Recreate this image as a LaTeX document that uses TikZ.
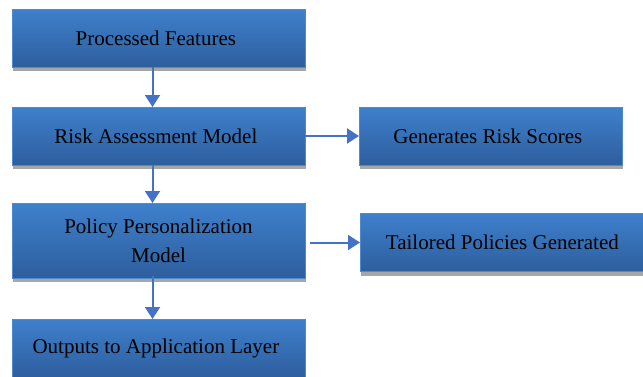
\documentclass[tikz,border=0pt]{standalone}
\usepackage{fontspec}
\setmainfont{Liberation Serif}
\usetikzlibrary{positioning}
\usetikzlibrary{arrows.meta}
\usetikzlibrary{shadows}

\definecolor{boxtop}{RGB}{62,128,204}
\definecolor{boxbottom}{RGB}{46,94,158}
\definecolor{boxline}{RGB}{78,138,210}
\definecolor{flowline}{RGB}{68,114,196}

\begin{document}
\begin{tikzpicture}[x=1pt,y=-1pt]
  \tikzstyle{block}=[rectangle, draw=boxline, line width=1pt, top color=boxtop, bottom color=boxbottom, text=black,
    font=\fontsize{21}{29}\selectfont, align=center, inner sep=0pt, outer sep=0pt,
    minimum width=293pt, minimum height=58pt,
    drop shadow={fill=black!35, shadow xshift=1pt, shadow yshift=-4pt, opacity=1}]
  \tikzstyle{flow}=[draw=flowline, line width=2pt, -{Triangle[width=15pt,length=12pt]}]

  \useasboundingbox (0,0) rectangle (643,376);

  \node[block] at (158.5, 38) (A)   { Processed Features };
  \node[block]         (B) [below=40pt of A] { Risk Assessment Model };
  \node[block, minimum height=75pt, yshift=0pt] (C) [below=38pt of B] { \raisebox{0pt}{Policy Personalization}\\ Model };
  \node[block]         (D) [below=41pt of C] { Outputs to Application Layer };

  \node[block, minimum width=263pt]             (E) [right=54pt of B] { Generates Risk Scores };
  \node[block, minimum width=290pt, yshift=-2pt] (F) [right=55pt of C] { Tailored Policies Generated };

  \draw[flow] ([xshift=-6pt]A.south) -- ([xshift=-6pt]B.north);
  \draw[flow] ([xshift=-6pt]B.south) -- ([xshift=-6pt]C.north);
  \draw[flow, shorten <=-2pt] ([xshift=-6pt]C.south) -- ([xshift=-6pt]D.north);
  \draw[flow] (B) -- (E);
  \draw[flow, shorten <=5pt] (C.east |- F.west) -- (F.west);
\end{tikzpicture}
\end{document}
